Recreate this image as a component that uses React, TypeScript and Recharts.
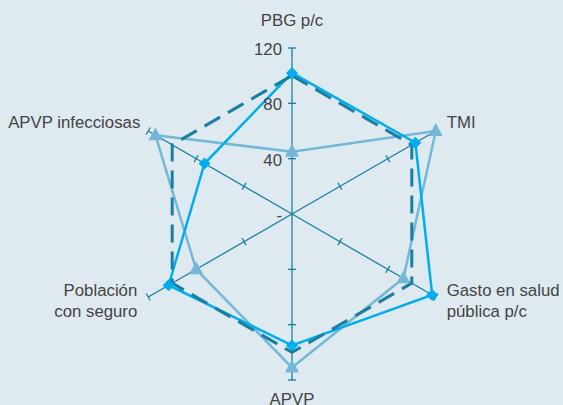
import { RadarChart, Radar, PolarAngleAxis, PolarRadiusAxis } from "recharts";

const axes = ["PBG p/c", "TMI", "Gasto en salud pública p/c", "APVP", "Población con seguro", "APVP infecciosas"];
const referencia = [100, 100, 100, 100, 100, 100];
const serieA = [102, 103, 117, 95, 103, 73];
const serieB = [45, 120, 93, 111, 80, 114];
const radiusTicks = [0, 40, 80, 120];
const tickText = ["-", "40", "80", "120"];

const data = axes.map((name, i) => ({
  name,
  referencia: referencia[i],
  serieA: serieA[i],
  serieB: serieB[i],
}));

const SPOKE = "#1a7fa5";
const TEXT = "#444";
const FONT = "Liberation Sans, Arial, sans-serif";
const spokeAngles = [90, 30, -30, -90, -150, 150];

// label lines + offsets for each outer label
const labelLines: string[][] = [["PBG p/c"], ["TMI"], ["Gasto en salud", "pública p/c"], ["APVP"], ["Población", "con seguro"], ["APVP infecciosas"]];
const labelPos = [
  { dx: 0, dy: -14, anchor: "middle" },
  { dx: 4, dy: 1, anchor: "start" },
  { dx: 4, dy: -5, anchor: "start" },
  { dx: 0, dy: 17, anchor: "middle" },
  { dx: -4, dy: -5, anchor: "end" },
  { dx: -1, dy: 1, anchor: "end" },
];

function AngleTick(props: any) {
  const { x, y, index } = props;
  const p = labelPos[index];
  const lines = labelLines[index];
  return (
    <text x={x + p.dx} y={y + p.dy} textAnchor={p.anchor} fill={TEXT} fontSize={16.8} fontFamily={FONT}>
      {lines.map((l, i) => (
        <tspan key={i} x={x + p.dx} dy={i === 0 ? 0 : 21}>
          {l}
        </tspan>
      ))}
    </text>
  );
}

function makeRadiusTick(angle: number, withLabel: boolean) {
  return function RadiusTick(props: any) {
    const { x, y, payload, index } = props;
    const rad = (angle * Math.PI) / 180;
    const px = Math.sin(rad) * 4;
    const py = Math.cos(rad) * 4;
    return (
      <g>
        {payload.value !== 0 && (
          <line x1={x - px} y1={y - py} x2={x + px} y2={y + py} stroke={SPOKE} strokeWidth={1.3} />
        )}
        {withLabel && (
          <text x={x - 10} y={y + 7} textAnchor="end" fill={TEXT} fontSize={16.8} fontFamily={FONT}>
            {tickText[index]}
          </text>
        )}
      </g>
    );
  };
}

function Diamond(props: any) {
  const { cx, cy } = props;
  const s = 6;
  return <path d={`M${cx},${cy - s}L${cx + s},${cy}L${cx},${cy + s}L${cx - s},${cy}Z`} fill="#00aeef" />;
}

function Triangle(props: any) {
  const { cx, cy } = props;
  return <path d={`M${cx},${cy - 8}L${cx + 7},${cy + 5}L${cx - 7},${cy + 5}Z`} fill="#74b8d8" />;
}

export default function App() {
  return (
    <div style={{ position: "fixed", left: 0, top: 0, width: 563, height: 405, background: "#deeaf0" }}>
      <RadarChart width={563} height={405} data={data} cx={292} cy={214} outerRadius={166} margin={{ top: 0, right: 0, bottom: 0, left: 0 }}>
        <PolarAngleAxis dataKey="name" tick={AngleTick} tickLine={false} axisLine={false} />
        {spokeAngles.map((a, i) => (
          <PolarRadiusAxis
            key={i}
            radiusAxisId={i === 0 ? 0 : `s${i}`}
            angle={a}
            domain={[0, 120]}
            ticks={radiusTicks}
            tickCount={4}
            axisLine={{ stroke: SPOKE, strokeWidth: 1.3 }}
            tick={makeRadiusTick(a, i === 0)}
            tickLine={false}
          />
        ))}
        {spokeAngles.slice(1).map((a, i) => (
          <Radar
            key={`h${i}`}
            radiusAxisId={`s${i + 1}`}
            dataKey="referencia"
            stroke="none"
            fill="none"
            fillOpacity={0}
            dot={false}
            legendType="none"
            isAnimationActive={false}
          />
        ))}
        <Radar dataKey="serieB" stroke="#74b8d8" strokeWidth={2.5} fill="none" fillOpacity={0} dot={(p: any) => <Triangle key={p.index} {...p} />} isAnimationActive={false} />
        <Radar dataKey="serieA" stroke="#00aeef" strokeWidth={2.5} fill="none" fillOpacity={0} dot={(p: any) => <Diamond key={p.index} {...p} />} isAnimationActive={false} />
        <Radar dataKey="referencia" stroke="#1b7ea3" strokeWidth={3} strokeDasharray="18 9" fill="none" fillOpacity={0} dot={false} isAnimationActive={false} />
      </RadarChart>
    </div>
  );
}
